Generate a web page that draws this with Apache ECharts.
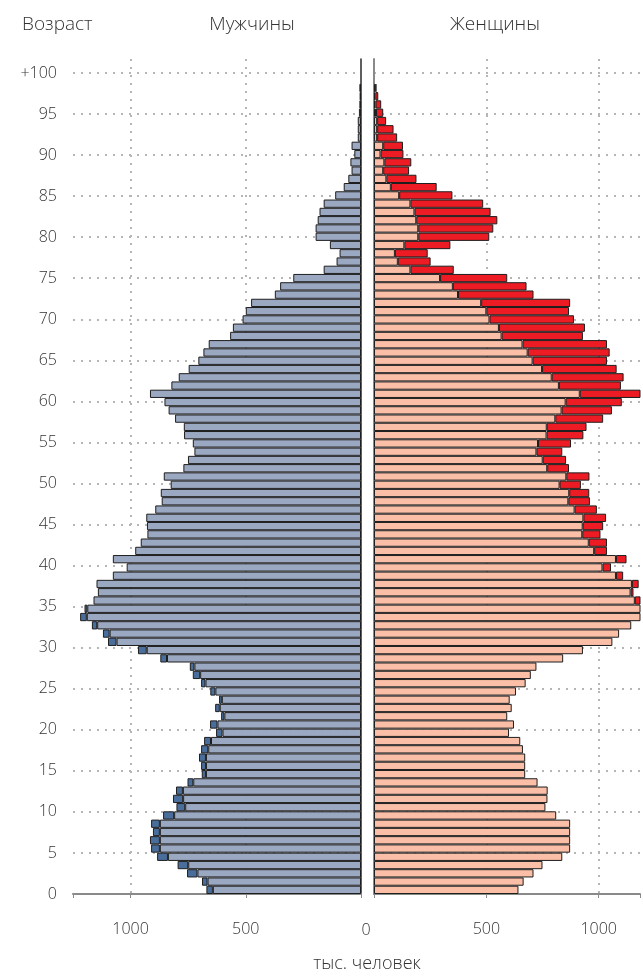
<!DOCTYPE html>
<html>
<head>
<meta charset="utf-8">
<script src="https://cdn.jsdelivr.net/npm/echarts@6/dist/echarts.min.js"></script>
<style>
html,body{margin:0;padding:0;background:#fff;}
#chart{width:643px;height:976px;}
</style>
</head>
<body>
<div id="chart"></div>
<script>
// Age categories 0..100 (100 = "+100")
const ages = [];
for (let a = 0; a <= 100; a++) ages.push(String(a));

// Population, thousand persons, by single year of age 0..100
const male = [
  671, 690, 755, 796, 885, 911, 916, 903, 911, 859,
  801, 816, 803, 753, 691, 694, 703, 694, 681, 629,
  655, 607, 633, 616, 654, 694, 730, 743, 871, 968,
  1098, 1120, 1168, 1219, 1200, 1161, 1142, 1148, 1077, 1017,
  1077, 980, 956, 927, 929, 932, 893, 865, 869, 826,
  856, 771, 751, 723, 730, 768, 769, 807, 835, 853,
  916, 823, 791, 748, 706, 684, 661, 568, 556, 514,
  500, 477, 374, 351, 294, 162, 106, 93, 135, 197,
  197, 188, 180, 162, 112, 75, 55, 41, 46, 29,
  41, 14, 14, 14, 9, 7, 6, 7, 0, 0,
  0
];
const female = [
  643, 666, 710, 750, 838, 873, 873, 873, 873, 811,
  763, 772, 773, 728, 673, 673, 673, 663, 651, 601,
  623, 593, 613, 604, 632, 675, 698, 723, 842, 930,
  1061, 1091, 1145, 1190, 1188, 1195, 1155, 1178, 1109, 1055,
  1124, 1037, 1037, 1008, 1020, 1033, 992, 961, 958, 921,
  959, 868, 855, 838, 877, 932, 946, 1020, 1059, 1103,
  1200, 1099, 1111, 1080, 1037, 1049, 1037, 930, 939, 890,
  868, 873, 710, 679, 593, 355, 252, 239, 340, 513,
  531, 549, 519, 486, 349, 279, 189, 156, 166, 131,
  129, 103, 87, 54, 41, 32, 19, 10, 0, 0,
  0
];

const xTicks = [0, 500, 1000];

const nz = v => (v > 0 ? v : '-');
const common = male.map((m, i) => nz(Math.min(m, female[i])));
const maleExcess = male.map((m, i) => nz(m - female[i]));
const femaleExcess = female.map((f, i) => nz(f - male[i]));

const font = "'Open Sans', 'Noto Sans', sans-serif";
const txt = '#333';
const fw = 300;
const gridDots = { color: '#b5b5b5', width: 2, type: [2, 6] };

const chart = echarts.init(document.getElementById('chart'), null, { renderer: 'canvas' });

const barStyle = (c) => ({ color: c, borderColor: '#1e1e1e', borderWidth: 1 });

const ageLabel = v => {
  if (Math.abs(v - 100) < 1e-6) return '+100';
  if (v % 5 === 0 && v < 100) return String(v);
  return '';
};
const xLabel = v => (v === xTicks[1] || v === xTicks[2] ? String(v) : '');

chart.setOption({
  animation: false,
  backgroundColor: '#fff',
  textStyle: { fontFamily: font },
  grid: [
    { left: 73, right: 282, top: 59, bottom: 82 },
    { left: 374, right: 0, top: 59, bottom: 82 }
  ],
  xAxis: [
    {
      gridIndex: 0, type: 'value', inverse: true, min: 0, max: 1250, interval: 500,
      axisLine: { show: true, onZero: false, lineStyle: { color: '#8a8a8a', width: 2 } },
      axisTick: { show: true, length: 4, lineStyle: { color: '#8a8a8a' } },
      axisLabel: { margin: 27, fontSize: 16, fontWeight: fw, color: txt, fontFamily: font, formatter: xLabel },
      splitLine: { show: true, showMinLine: false, showMaxLine: false, lineStyle: gridDots }
    },
    {
      gridIndex: 1, type: 'value', min: 0, max: 1184, interval: 500,
      axisLine: { show: true, onZero: false, lineStyle: { color: '#8a8a8a', width: 2 } },
      axisTick: { show: true, length: 4, lineStyle: { color: '#8a8a8a' } },
      axisLabel: { margin: 27, fontSize: 16, fontWeight: fw, color: txt, fontFamily: font, formatter: xLabel },
      splitLine: { show: true, showMinLine: false, showMaxLine: false, lineStyle: gridDots }
    }
  ],
  yAxis: [
    { // bars, left panel (zero line on the right)
      gridIndex: 0, type: 'category', data: ages, position: 'right',
      axisLine: { show: true, onZero: false, lineStyle: { color: '#2a2a2a', width: 1.5 } },
      axisTick: { show: false }, axisLabel: { show: false }, splitLine: { show: false }
    },
    { // age labels and horizontal grid, left panel
      gridIndex: 0, type: 'value', position: 'left', min: 0, max: 101.7, interval: 5,
      axisLine: { show: false }, axisTick: { show: false },
      axisLabel: { margin: 16, fontSize: 16, fontWeight: fw, color: txt, fontFamily: font, formatter: ageLabel },
      splitLine: { show: true, showMinLine: false, showMaxLine: false, lineStyle: gridDots }
    },
    { // bars, right panel
      gridIndex: 1, type: 'category', data: ages, position: 'left',
      axisLine: { show: true, onZero: false, lineStyle: { color: '#8a8a8a', width: 2 } },
      axisTick: { show: false }, axisLabel: { show: false }, splitLine: { show: false }
    },
    { // horizontal grid, right panel
      gridIndex: 1, type: 'value', position: 'right', min: 0, max: 101.7, interval: 5,
      axisLine: { show: false }, axisTick: { show: false }, axisLabel: { show: false },
      splitLine: { show: true, showMinLine: false, showMaxLine: false, lineStyle: gridDots }
    }
  ],
  series: [
    { name: 'Мужчины', type: 'bar', xAxisIndex: 0, yAxisIndex: 0, stack: 'm',
      barCategoryGap: '0%', data: common, itemStyle: barStyle('#9ba8c2'), z: 3 },
    { name: 'Мужчины (избыток)', type: 'bar', xAxisIndex: 0, yAxisIndex: 0, stack: 'm',
      barCategoryGap: '0%', data: maleExcess, itemStyle: barStyle('#4a6e9b'), z: 3 },
    { name: 'Женщины', type: 'bar', xAxisIndex: 1, yAxisIndex: 2, stack: 'f',
      barCategoryGap: '0%', data: common, itemStyle: barStyle('#fbbfa8'), z: 3 },
    { name: 'Женщины (избыток)', type: 'bar', xAxisIndex: 1, yAxisIndex: 2, stack: 'f',
      barCategoryGap: '0%', data: femaleExcess, itemStyle: barStyle('#ed1c24'), z: 3 }
  ],
  graphic: [
    { type: 'text', x: 22, y: 25, style: { text: 'Возраст', font: fw + ' 19px ' + font, fill: txt, align: 'left', verticalAlign: 'middle' } },
    { type: 'text', x: 252, y: 25, style: { text: 'Мужчины', font: fw + ' 19px ' + font, fill: txt, align: 'center', verticalAlign: 'middle' } },
    { type: 'text', x: 495, y: 25, style: { text: 'Женщины', font: fw + ' 19px ' + font, fill: txt, align: 'center', verticalAlign: 'middle' } },
    { type: 'text', x: 366, y: 930, style: { text: String(xTicks[0]), font: fw + ' 16px ' + font, fill: txt, align: 'center', verticalAlign: 'middle' } },
    { type: 'text', x: 367, y: 964, style: { text: 'тыс. человек', font: fw + ' 18px ' + font, fill: txt, align: 'center', verticalAlign: 'middle' } }
  ]
});
</script>
</body>
</html>
